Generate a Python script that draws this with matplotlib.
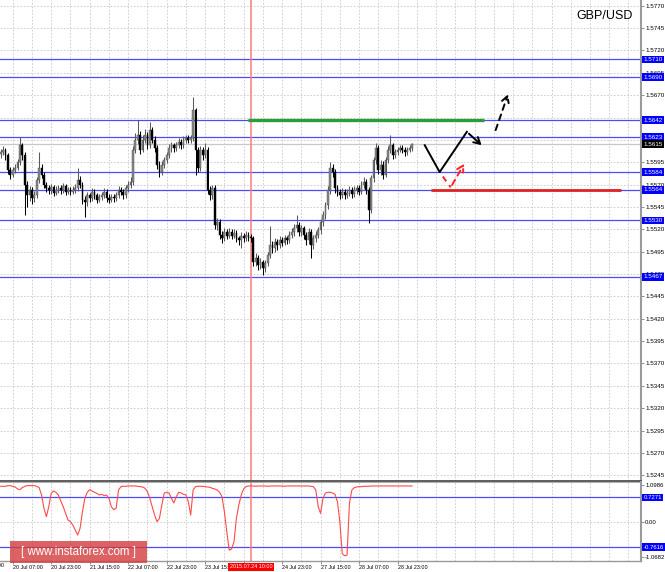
import numpy as np
import matplotlib
matplotlib.use('Agg')
import matplotlib.pyplot as plt
from matplotlib.patches import Rectangle
import matplotlib.transforms as mtransforms

plt.rcParams['font.family'] = ['Liberation Sans', 'DejaVu Sans']

# ---------------- data (H1 GBP/USD candles) ----------------
closes = [
    1.5606, 1.5609, 1.5603, 1.5586, 1.5581, 1.5586, 1.5589, 1.5595, 1.5614, 1.5603,
    1.5570, 1.5558, 1.5564, 1.5555, 1.5558, 1.5575, 1.5589, 1.5581, 1.5570, 1.5566,
    1.5564, 1.5567, 1.5561, 1.5564, 1.5566, 1.5564, 1.5568, 1.5562, 1.5564, 1.5562,
    1.5564, 1.5566, 1.5575, 1.5570, 1.5553, 1.5550, 1.5558, 1.5555, 1.5562, 1.5558,
    1.5553, 1.5556, 1.5558, 1.5562, 1.5555, 1.5553, 1.5556, 1.5555, 1.5558, 1.5564,
    1.5562, 1.5558, 1.5566, 1.5570, 1.5573, 1.5609, 1.5620, 1.5626, 1.5609, 1.5620,
    1.5626, 1.5614, 1.5631, 1.5620, 1.5611, 1.5592, 1.5584, 1.5592, 1.5597, 1.5603,
    1.5611, 1.5614, 1.5611, 1.5614, 1.5618, 1.5614, 1.5620, 1.5622, 1.5620, 1.5622,
    1.5653, 1.5609, 1.5589, 1.5609, 1.5603, 1.5609, 1.5564, 1.5558, 1.5566, 1.5525,
    1.5528, 1.5514, 1.5510, 1.5517, 1.5513, 1.5517, 1.5513, 1.5516, 1.5510, 1.5508,
    1.5513, 1.5510, 1.5514, 1.5511, 1.5510, 1.5483, 1.5488, 1.5480, 1.5483, 1.5477,
    1.5482, 1.5491, 1.5502, 1.5499, 1.5506, 1.5502, 1.5508, 1.5505, 1.5510, 1.5508,
    1.5514, 1.5517, 1.5521, 1.5525, 1.5517, 1.5521, 1.5514, 1.5508, 1.5517, 1.5502,
    1.5510, 1.5514, 1.5519, 1.5528, 1.5536, 1.5547, 1.5564, 1.5589, 1.5584, 1.5566,
    1.5562, 1.5558, 1.5562, 1.5558, 1.5561, 1.5564, 1.5559, 1.5564, 1.5566, 1.5562,
    1.5570, 1.5573, 1.5564, 1.5542, 1.5577, 1.5597, 1.5611, 1.5586, 1.5592, 1.5581,
    1.5597, 1.5609, 1.5614, 1.5603, 1.5606, 1.5609, 1.5611, 1.5609, 1.5606, 1.5609,
    1.5611, 1.5615,
]
highs = [
    1.5610, 1.5613, 1.5611, 1.5605, 1.5590, 1.5590, 1.5593, 1.5599, 1.5623, 1.5617,
    1.5606, 1.5574, 1.5568, 1.5567, 1.5563, 1.5579, 1.5606, 1.5593, 1.5584, 1.5573,
    1.5570, 1.5571, 1.5570, 1.5568, 1.5570, 1.5569, 1.5572, 1.5571, 1.5567, 1.5567,
    1.5568, 1.5571, 1.5589, 1.5580, 1.5573, 1.5557, 1.5562, 1.5561, 1.5566, 1.5565,
    1.5561, 1.5560, 1.5562, 1.5566, 1.5565, 1.5559, 1.5560, 1.5559, 1.5562, 1.5568,
    1.5567, 1.5565, 1.5570, 1.5574, 1.5578, 1.5613, 1.5628, 1.5642, 1.5630, 1.5626,
    1.5632, 1.5629, 1.5640, 1.5634, 1.5624, 1.5614, 1.5596, 1.5596, 1.5601, 1.5607,
    1.5615, 1.5618, 1.5617, 1.5618, 1.5622, 1.5621, 1.5624, 1.5626, 1.5625, 1.5626,
    1.5668, 1.5656, 1.5612, 1.5613, 1.5612, 1.5617, 1.5612, 1.5568, 1.5570, 1.5569,
    1.5533, 1.5531, 1.5518, 1.5521, 1.5520, 1.5521, 1.5520, 1.5520, 1.5519, 1.5513,
    1.5517, 1.5516, 1.5518, 1.5517, 1.5515, 1.5513, 1.5493, 1.5491, 1.5488, 1.5486,
    1.5486, 1.5495, 1.5524, 1.5507, 1.5510, 1.5509, 1.5512, 1.5511, 1.5514, 1.5513,
    1.5518, 1.5521, 1.5526, 1.5536, 1.5528, 1.5525, 1.5524, 1.5517, 1.5521, 1.5520,
    1.5514, 1.5518, 1.5523, 1.5532, 1.5540, 1.5551, 1.5568, 1.5595, 1.5593, 1.5587,
    1.5569, 1.5565, 1.5566, 1.5565, 1.5565, 1.5568, 1.5567, 1.5568, 1.5570, 1.5569,
    1.5574, 1.5578, 1.5576, 1.5567, 1.5581, 1.5601, 1.5617, 1.5614, 1.5597, 1.5596,
    1.5601, 1.5613, 1.5626, 1.5617, 1.5610, 1.5612, 1.5614, 1.5614, 1.5612, 1.5612,
    1.5614, 1.5617,
]
lows = [
    1.5600, 1.5603, 1.5598, 1.5582, 1.5576, 1.5578, 1.5583, 1.5586, 1.5592, 1.5598,
    1.5536, 1.5545, 1.5552, 1.5548, 1.5551, 1.5555, 1.5572, 1.5577, 1.5566, 1.5562,
    1.5559, 1.5560, 1.5557, 1.5558, 1.5561, 1.5560, 1.5561, 1.5558, 1.5559, 1.5558,
    1.5559, 1.5561, 1.5563, 1.5566, 1.5548, 1.5534, 1.5546, 1.5551, 1.5552, 1.5554,
    1.5549, 1.5550, 1.5553, 1.5555, 1.5551, 1.5549, 1.5550, 1.5551, 1.5552, 1.5555,
    1.5558, 1.5554, 1.5555, 1.5562, 1.5566, 1.5570, 1.5605, 1.5615, 1.5604, 1.5606,
    1.5616, 1.5610, 1.5611, 1.5616, 1.5606, 1.5587, 1.5578, 1.5581, 1.5589, 1.5594,
    1.5600, 1.5607, 1.5607, 1.5608, 1.5611, 1.5610, 1.5611, 1.5617, 1.5616, 1.5616,
    1.5619, 1.5581, 1.5584, 1.5585, 1.5598, 1.5600, 1.5559, 1.5553, 1.5554, 1.5520,
    1.5519, 1.5509, 1.5505, 1.5507, 1.5509, 1.5510, 1.5509, 1.5510, 1.5506, 1.5503,
    1.5499, 1.5506, 1.5507, 1.5507, 1.5506, 1.5479, 1.5479, 1.5475, 1.5476, 1.5469,
    1.5472, 1.5479, 1.5488, 1.5494, 1.5495, 1.5497, 1.5499, 1.5501, 1.5502, 1.5504,
    1.5505, 1.5510, 1.5513, 1.5517, 1.5512, 1.5513, 1.5509, 1.5503, 1.5504, 1.5488,
    1.5498, 1.5506, 1.5510, 1.5515, 1.5524, 1.5532, 1.5543, 1.5560, 1.5579, 1.5561,
    1.5557, 1.5554, 1.5555, 1.5554, 1.5555, 1.5557, 1.5555, 1.5556, 1.5560, 1.5558,
    1.5559, 1.5566, 1.5560, 1.5527, 1.5538, 1.5573, 1.5593, 1.5582, 1.5581, 1.5576,
    1.5578, 1.5594, 1.5605, 1.5599, 1.5600, 1.5603, 1.5606, 1.5605, 1.5602, 1.5603,
    1.5606, 1.5608,
]
first_open = 1.5604
opens = [first_open] + closes[:-1]

# oscillator in lower pane
osc = [
    1.06, 1.06, 1.06, 1.08, 1.08, 1.06, 1.04, 0.98, 0.96, 1.02,
    1.06, 1.08, 1.08, 1.08, 1.08, 1.06, 1.02, 0.80, 0.40, 0.15,
    0.45, 0.85, 0.92, 0.88, 0.80, 0.62, 0.45, 0.25, 0.05, 0.00,
    -0.10, -0.25, -0.40, -0.20, 0.30, 0.70, 0.88, 0.96, 0.92, 0.88,
    0.85, 0.80, 0.82, 0.78, 0.80, 0.70, 0.45, 0.36, 0.40, 0.95,
    1.05, 1.06, 1.06, 1.07, 1.07, 1.07, 1.07, 1.06, 1.05, 1.04,
    1.00, 0.90, 0.70, 0.45, 0.20, 0.00, 0.10, 0.50, 0.86, 0.88,
    0.86, 0.70, 0.56, 0.75, 0.88, 0.86, 0.82, 0.80, 0.60, 0.20,
    0.95, 1.05, 1.06, 1.06, 1.06, 1.05, 1.04, 1.03, 1.00, 0.98,
    0.95, 0.88, 0.75, 0.30, -0.30, -0.85, -0.82, -0.60, 0.10, 0.50,
    0.80, 0.98, 1.05, 1.07, 1.07, 1.07, 1.06, 1.07, 1.07, 1.07,
    1.07, 1.06, 1.07, 1.07, 1.07, 1.07, 1.07, 1.07, 1.06, 1.07,
    1.07, 1.07, 1.07, 1.07, 1.07, 1.07, 1.07, 1.07, 1.07, 1.06,
    1.05, 0.95, 0.45, 0.25, 0.70, 0.86, 0.88, 0.88, 0.86, 0.82,
    0.60, 0.00, -0.95, -1.02, -1.00, 0.56, 0.95, 1.02, 1.04, 1.05,
    1.05, 1.06, 1.06, 1.06, 1.07, 1.07, 1.07, 1.07, 1.07, 1.07,
    1.07, 1.07, 1.07, 1.07, 1.07, 1.07, 1.07, 1.07, 1.07, 1.07,
    1.07, 1.07,
]

levels = [1.5710, 1.5690, 1.5642, 1.5623, 1.5584, 1.5564, 1.5530, 1.5467]
bid_price = 1.5615
osc_levels = [0.7271, -0.7616]
osc_ticks = [1.0986, 0.0, -1.0682]
osc_tick_labels = ['1.0986', '0.00', '-1.0682']

price_ticks = [1.5245, 1.5270, 1.5295, 1.5320, 1.5345, 1.5370, 1.5395, 1.5420,
               1.5445, 1.5470, 1.5495, 1.5520, 1.5545, 1.5570, 1.5595, 1.5620,
               1.5645, 1.5670, 1.5695, 1.5720, 1.5745, 1.5770]

time_idx = [5, 21, 37, 53, 69, 85, 101, 117, 133, 149, 165]
time_labels = ['20 Jul 07:00', '20 Jul 23:00', '21 Jul 15:00', '22 Jul 07:00',
               '22 Jul 23:00', '23 Jul 15:00', '24 Jul 07:00', '24 Jul 23:00',
               '27 Jul 15:00', '28 Jul 07:00', '28 Jul 23:00']
prev_label_idx = -11
prev_label = '20 Jul 00:00'

vline_idx = 104
vline_label = '2015.07.24 10:00'

green_x = [103, 201]
green_y = [1.5642, 1.5642]
redseg_x = [179, 258]
redseg_y = [1.5564, 1.5564]

black_x = [176.3, 182.5, 193.8, 200.8]
black_y = [1.5614, 1.5584, 1.5629, 1.5612]
black_dash_x = [205.4, 211.3]
black_dash_y = [1.5628, 1.5674]
red_dash_x = [183.8, 187.1, 193.3]
red_dash_y = [1.5579, 1.5567, 1.5596]

# ---------------- figure ----------------
W, H = 665, 572
fig = plt.figure(figsize=(W / 100, H / 100), dpi=100)
fig.patch.set_facecolor('white')
ax = fig.add_axes([0, 91 / H, 641 / W, 481 / H])
ax2 = fig.add_axes([0, 11 / H, 641 / W, 79 / H])

XL = (-0.28, 266.2)
for a in (ax, ax2):
    a.set_xlim(*XL)
    a.set_facecolor('white')
ax.set_ylim(1.52386, 1.57764)
ax2.set_ylim(-1.177, 1.189)

grid_kw = dict(color='#c8c8c8', lw=0.6, dashes=(2, 2), zorder=0)
for gx in range(5, 267, 8):
    ax.axvline(gx, **grid_kw)
    ax2.axvline(gx, **grid_kw)
for gy in price_ticks:
    ax.axhline(gy, **grid_kw)
ax2.axhline(0.0, **grid_kw)

# spines
for a in (ax, ax2):
    a.spines['left'].set_visible(False)
    a.spines['top'].set_visible(False)
    a.spines['right'].set_color('#9a9a9a')
    a.spines['right'].set_linewidth(1.5)
ax.spines['bottom'].set_color('#505050')
ax.spines['bottom'].set_linewidth(1.3)
ax2.spines['top'].set_visible(True)
ax2.spines['top'].set_color('#a0a0a0')
ax2.spines['top'].set_linewidth(0.6)
ax2.spines['bottom'].set_color('#9a9a9a')
ax2.spines['bottom'].set_linewidth(1.0)

# price axis
ax.yaxis.tick_right()
ax.set_yticks(price_ticks)
ax.set_yticklabels([f'{t:.4f}' for t in price_ticks])
ax.tick_params(axis='y', labelsize=4.5, length=2, width=0.5, color='#606060', pad=1.2)
ax.set_xticks([])

ax2.yaxis.tick_right()
ax2.set_yticks(osc_ticks)
ax2.set_yticklabels(osc_tick_labels)
ax2.tick_params(axis='y', labelsize=4.3, length=2, width=0.5, color='#606060', pad=1.0)
ax2.set_xticks(time_idx)
ax2.set_xticklabels(time_labels)
ax2.tick_params(axis='x', labelsize=3.9, length=2, width=0.5, color='#606060', pad=1.2)
for lab in ax2.get_xticklabels():
    lab.set_ha('left')
trans2 = mtransforms.blended_transform_factory(ax2.transData, ax2.transAxes)
ax2.text(prev_label_idx, -0.03, prev_label, transform=trans2, ha='left', va='top',
         fontsize=3.9, clip_on=False)

# levels
for lvl in levels:
    ax.axhline(lvl, color='#4a4aff', lw=0.9, zorder=2)
    ax.text(1.004, lvl, f'{lvl:.4f}', transform=ax.get_yaxis_transform(), ha='left',
            va='center', fontsize=4.5, color='white', zorder=10, clip_on=False,
            bbox=dict(boxstyle='square,pad=0.22', fc='#0000ff', ec='none'))
ax.axhline(bid_price, color='#c8c8c8', lw=0.9, zorder=2)
ax.text(1.004, bid_price, f'{bid_price:.4f}', transform=ax.get_yaxis_transform(), ha='left',
        va='center', fontsize=4.5, color='white', zorder=10, clip_on=False,
        bbox=dict(boxstyle='square,pad=0.22', fc='#000000', ec='none'))
for lvl in osc_levels:
    ax2.axhline(lvl, color='#4a4aff', lw=0.9, zorder=2)
    ax2.text(1.004, lvl, f'{lvl:.4f}', transform=ax2.get_yaxis_transform(), ha='left',
             va='center', fontsize=4.3, color='white', zorder=10, clip_on=False,
             bbox=dict(boxstyle='square,pad=0.22', fc='#0000ff', ec='none'))

# candles
idx = np.arange(len(closes))
o = np.array(opens)
c = np.array(closes)
h = np.array(highs)
l = np.array(lows)
bull = c >= o
wick_col = np.where(bull, '#5a5a5a', '#000000')
ax.vlines(idx, l, h, colors=wick_col, lw=0.75, zorder=3)
body_bottom = np.minimum(o, c)
body_h = np.maximum(np.abs(c - o), 0.00003)
ax.bar(idx[bull], body_h[bull], bottom=body_bottom[bull], width=0.75,
       color='#8a8a8a', edgecolor='#4a4a4a', lw=0.3, zorder=4)
ax.bar(idx[~bull], body_h[~bull], bottom=body_bottom[~bull], width=0.75,
       color='#000000', edgecolor='#000000', lw=0.3, zorder=4)

# vertical marker line
ax.axvline(vline_idx, color='#ff7a7a', lw=1.1, zorder=2.5)
ax2.axvline(vline_idx, color='#ff7a7a', lw=1.1, zorder=2.5)
ax2.text(vline_idx, -0.075, vline_label, transform=trans2, ha='center', va='center',
         fontsize=3.9, color='white', zorder=12, clip_on=False,
         bbox=dict(boxstyle='square,pad=0.25', fc='#ff0000', ec='none'))

# oscillator
ax2.plot(np.arange(len(osc)), osc, color='#ff4a4a', lw=0.8, zorder=3)

# drawn objects
ax.plot(green_x, green_y, color='#2a9d3a', lw=2.4, zorder=5, solid_capstyle='butt')
ax.plot(redseg_x, redseg_y, color='#e02222', lw=2.0, zorder=5, solid_capstyle='butt')
ax.plot(black_x[:-1], black_y[:-1], color='black', lw=1.4, zorder=6)
ax.annotate('', xy=(black_x[-1], black_y[-1]), xytext=(black_x[-2], black_y[-2]),
            arrowprops=dict(arrowstyle='->,head_length=0.45,head_width=0.25', color='black', lw=1.4),
            zorder=6)
ax.annotate('', xy=(black_dash_x[1], black_dash_y[1]), xytext=(black_dash_x[0], black_dash_y[0]),
            arrowprops=dict(arrowstyle='->,head_length=0.45,head_width=0.25', color='black',
                            lw=1.4, linestyle=(0, (3, 2.5))), zorder=6)
ax.plot(red_dash_x[:-1], red_dash_y[:-1], color='#ff2020', lw=1.4, dashes=(3, 2.5), zorder=6)
ax.annotate('', xy=(red_dash_x[-1], red_dash_y[-1]), xytext=(red_dash_x[-2], red_dash_y[-2]),
            arrowprops=dict(arrowstyle='->,head_length=0.45,head_width=0.25', color='#ff2020',
                            lw=1.4, linestyle=(0, (3, 2.5))), zorder=6)

# title
ax.text(633 / 641, 1 - 16 / 481, 'GBP/USD', transform=ax.transAxes, ha='right', va='center',
        fontsize=9, color='black', zorder=12)

# watermark
fig.add_artist(Rectangle((10 / W, (H - 563) / H), 137 / W, 22 / H, transform=fig.transFigure,
                         fc='#d43c3c', ec='none', alpha=0.8, zorder=20))
fig.text(78.5 / W, (H - 552) / H, '[ www.instaforex.com ]', ha='center', va='center',
         fontsize=8.3, color='white', zorder=21)

fig.savefig('out.png', dpi=100)
